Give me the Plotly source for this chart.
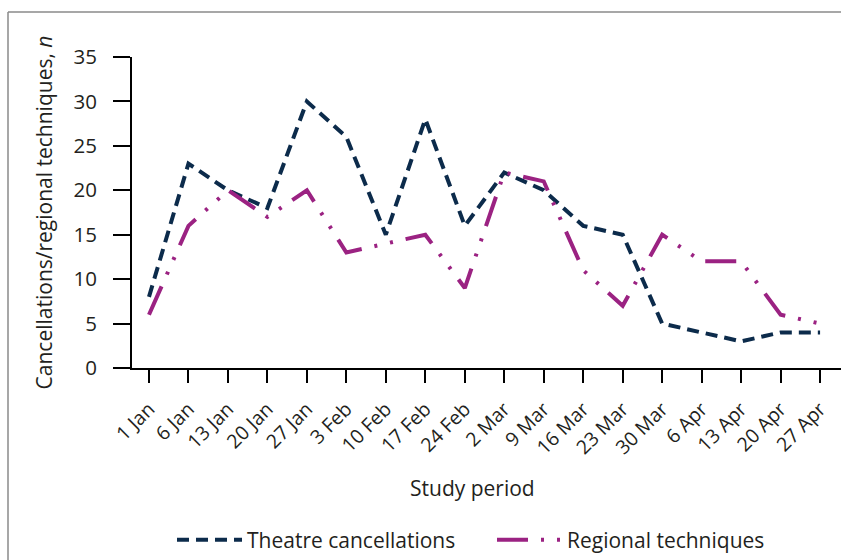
import plotly.graph_objects as go

weeks = ["1 Jan", "6 Jan", "13 Jan", "20 Jan", "27 Jan", "3 Feb", "10 Feb", "17 Feb", "24 Feb",
         "2 Mar", "9 Mar", "16 Mar", "23 Mar", "30 Mar", "6 Apr", "13 Apr", "20 Apr", "27 Apr"]
theatre_cancellations = [8, 23, 20, 18, 30, 26, 15, 28, 16, 22, 20, 16, 15, 5, 4, 3, 4, 4]
regional_techniques = [6, 16, 20, 17, 20, 13, 14, 15, 9, 22, 21, 11, 7, 15, 12, 12, 6, 5]

NAVY = "#0c2b4b"
PURPLE = "#9b2282"
TEXT = "#231f20"
FONT = "Open Sans"

fig = go.Figure()
fig.add_trace(go.Scatter(
    x=weeks, y=theatre_cancellations, mode="lines", name="Theatre cancellations",
    line=dict(color=NAVY, width=4, dash="12px,7px"),
))
fig.add_trace(go.Scatter(
    x=weeks, y=regional_techniques, mode="lines", name="Regional techniques",
    line=dict(color=PURPLE, width=4, dash="31px,13px,3px,13px,3px,13px"),
))

L, T, B = 132, 57, 192
W, H = 841, 560
pw = W - L
ph = H - T - B

def px_x(p):
    return (p - L) / pw

def px_y(p):
    return (H - B - p) / ph

fig.update_layout(
    width=W, height=H,
    margin=dict(l=L, r=0, t=T, b=B, pad=0, autoexpand=False),
    paper_bgcolor="white", plot_bgcolor="white",
    font=dict(family=FONT, size=20, color=TEXT),
    showlegend=True,
    legend=dict(orientation="h", x=px_x(172), xanchor="left", y=px_y(540), yanchor="middle",
                font=dict(size=21), itemwidth=65, entrywidth=240, entrywidthmode="pixels",
                traceorder="normal", bgcolor="rgba(0,0,0,0)"),
    xaxis=dict(
        type="category", range=[-0.43, 17.53], showgrid=False, zeroline=False,
        showline=True, linecolor="black", linewidth=2,
        ticks="outside", ticklen=13, tickwidth=2, tickcolor="black",
        tickangle=-45, tickfont=dict(size=19.5), ticklabelstandoff=7,
    ),
    yaxis=dict(
        range=[0, 35], dtick=5, showgrid=False, zeroline=False,
        showline=True, linecolor="black", linewidth=2,
        ticks="outside", ticklen=17, tickwidth=2, tickcolor="black",
        tickfont=dict(size=20.5), ticklabelstandoff=12,
        title=dict(text="Cancellations/regional techniques, <i>n</i>", font=dict(size=21), standoff=15),
    ),
    annotations=[
        dict(text="Study period", xref="paper", yref="paper", x=px_x(472), y=px_y(488),
             xanchor="center", yanchor="middle", showarrow=False, font=dict(size=21, color=TEXT)),
    ],
    shapes=[
        dict(type="line", xref="paper", yref="paper", x0=px_x(8), x1=px_x(900), y0=px_y(12), y1=px_y(12),
             line=dict(color="#8a8a8a", width=1.5)),
        dict(type="line", xref="paper", yref="paper", x0=px_x(8), x1=px_x(8), y0=px_y(12), y1=px_y(600),
             line=dict(color="#8a8a8a", width=1.5)),
    ],
)

fig.write_html("out.html", config={"displayModeBar": False},
               post_script="document.body.style.margin='0';document.body.style.overflow='hidden';")
